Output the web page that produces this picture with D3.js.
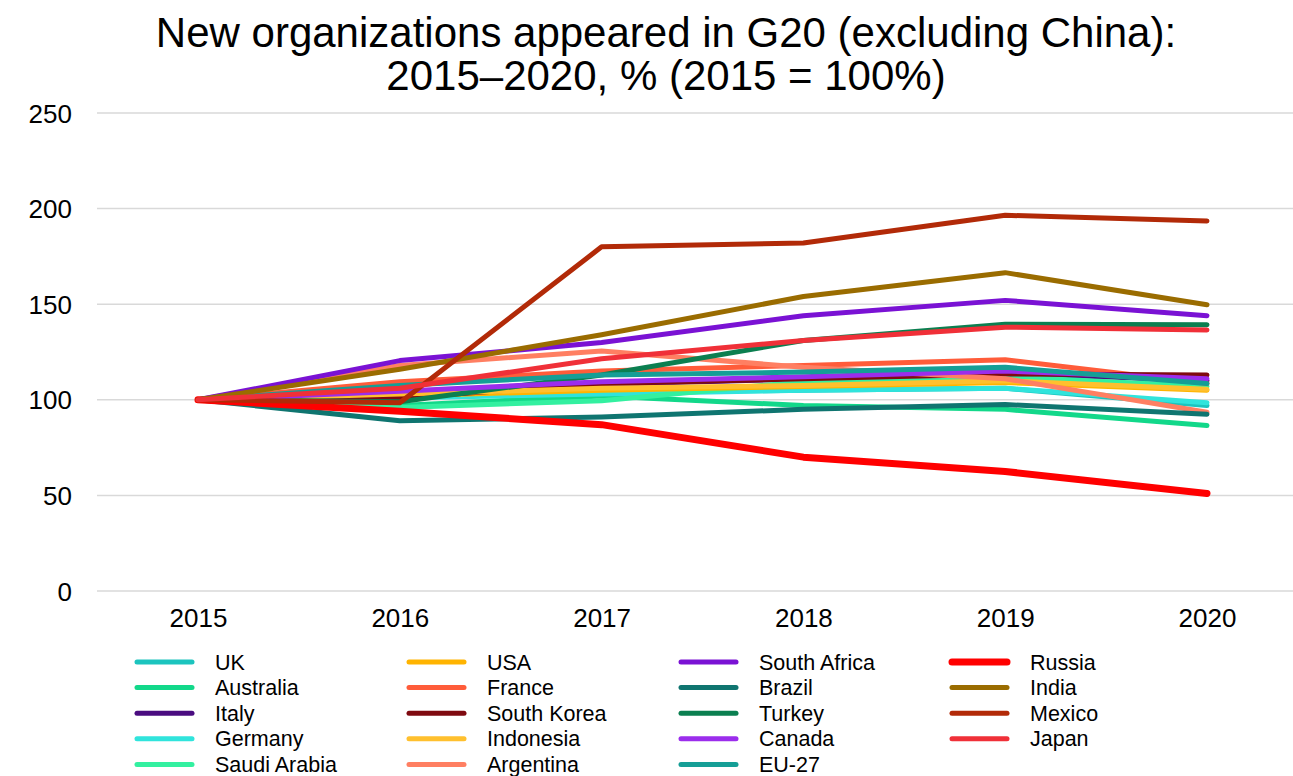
<!DOCTYPE html>
<html>
<head>
<meta charset="utf-8">
<script src="https://cdn.jsdelivr.net/npm/d3@7"></script>
<style>
  body { margin: 0; background: #fff; }
  text { font-family: "Liberation Sans", Arial, sans-serif; fill: #000; }
</style>
</head>
<body>
<div id="chart"></div>
<script>
var years = ["2015", "2016", "2017", "2018", "2019", "2020"];
var yTicks = [0, 50, 100, 150, 200, 250];

// series, in legend order (column by column)
var countries = ["UK", "Australia", "Italy", "Germany", "Saudi Arabia",
                 "USA", "France", "South Korea", "Indonesia", "Argentina",
                 "South Africa", "Brazil", "Turkey", "Canada", "EU-27",
                 "Russia", "India", "Mexico", "Japan"];

var uk          = [100, 102, 104, 105, 106, 97];
var australia   = [100, 97, 102, 97, 95, 86.5];
var italy       = [100, 104, 108, 111, 114, 110];
var germany     = [100, 101, 103, 105, 106, 98.5];
var saudiArabia = [100, 96, 99.5, 109.5, 112, 107];
var usa         = [100, 102, 105, 107, 109, 105];
var france      = [100, 109.5, 115, 118, 121, 108.5];
var southKorea  = [100, 101, 108.5, 111, 113.5, 113];
var indonesia   = [100, 103, 106, 107.5, 110, 105.5];
var argentina   = [100, 118, 125.5, 117, 111, 93.5];
var southAfrica = [100, 120.5, 130, 144, 152, 144];
var brazil      = [100, 89, 91, 95, 97.5, 92.5];
var turkey      = [100, 99, 113, 131, 139.5, 139.2];
var canada      = [100, 104.5, 109.5, 112, 115, 111];
var eu27        = [100, 107.5, 113, 114.5, 117, 108.5];
var russia      = [100, 94, 87, 70, 62.5, 51];
var india       = [100, 116, 134, 154, 166.5, 149.7];
var mexico      = [100, 98.5, 180, 182, 196.5, 193.5];
var japan       = [100, 106, 121.5, 131, 138, 136.5];

var values = [uk, australia, italy, germany, saudiArabia,
              usa, france, southKorea, indonesia, argentina,
              southAfrica, brazil, turkey, canada, eu27,
              russia, india, mexico, japan];

var colors = ["#1cc4be", "#12d88a", "#4a0c80", "#30e4dc", "#33f0a0",
              "#ffb400", "#ff5c3a", "#7f0a10", "#ffc02e", "#ff7f62",
              "#7a12d4", "#0f7570", "#0b7f50", "#9b2dec", "#159e96",
              "#ff0000", "#9a6c00", "#b22a08", "#f03038"];

var W = 1293, H = 776;
var plot = {left: 97, right: 1293, top: 113, bottom: 591};

var svg = d3.select("#chart").append("svg")
  .attr("width", W)
  .attr("height", H);

// title
svg.append("text")
  .attr("x", 666).attr("y", 47)
  .attr("text-anchor", "middle")
  .style("font-size", "42px")
  .text("New organizations appeared in G20 (excluding China):");
svg.append("text")
  .attr("x", 666).attr("y", 90)
  .attr("text-anchor", "middle")
  .style("font-size", "42px")
  .text("2015\u20132020, % (2015 = 100%)");

var x = d3.scalePoint()
  .domain(years)
  .range([198, 1207]);

var y = d3.scaleLinear()
  .domain([0, 250])
  .range([plot.bottom, plot.top]);

// gridlines
svg.append("g")
  .selectAll("line")
  .data(yTicks)
  .enter()
  .append("line")
    .attr("x1", plot.left)
    .attr("x2", plot.right)
    .attr("y1", function(d) { return y(d); })
    .attr("y2", function(d) { return y(d); })
    .attr("stroke", "#d9d9d9")
    .attr("stroke-width", 1.5);

// y axis labels
var yAxis = svg.append("g")
  .attr("transform", "translate(" + 80 + ",0)")
  .call(d3.axisLeft(y).tickValues(yTicks).tickSize(0).tickPadding(8));
yAxis.select(".domain").remove();
yAxis.selectAll("text").style("font-size", "26px").attr("dy", "0.35em");

// x axis labels
var xAxis = svg.append("g")
  .attr("transform", "translate(0," + plot.bottom + ")")
  .call(d3.axisBottom(x).tickSize(0).tickPadding(18));
xAxis.select(".domain").remove();
xAxis.selectAll("text").style("font-size", "26px");

// lines
var line = d3.line()
  .x(function(d, i) { return x(years[i]); })
  .y(function(d) { return y(d); });

svg.append("g")
  .selectAll("path")
  .data(values)
  .enter()
  .append("path")
    .attr("d", line)
    .attr("fill", "none")
    .attr("stroke", function(d, i) { return colors[i]; })
    .attr("stroke-width", function(d, i) { return countries[i] === "Russia" ? 7 : 5; })
    .attr("stroke-linecap", "round")
    .attr("stroke-linejoin", "round");

// legend, 5 rows per column
var colX = [137, 409, 681, 952];
var legend = svg.append("g")
  .selectAll("g")
  .data(countries)
  .enter()
  .append("g")
    .attr("transform", function(d, i) {
      return "translate(" + colX[Math.floor(i / 5)] + "," + (662 + (i % 5) * 25.6) + ")";
    });

legend.append("line")
  .attr("x1", 0).attr("x2", 55)
  .attr("stroke", function(d, i) { return colors[i]; })
  .attr("stroke-width", function(d) { return d === "Russia" ? 7 : 5; })
  .attr("stroke-linecap", "round");

legend.append("text")
  .attr("x", 78)
  .attr("dy", "0.35em")
  .style("font-size", "21.5px")
  .text(function(d) { return d; });
</script>
</body>
</html>
